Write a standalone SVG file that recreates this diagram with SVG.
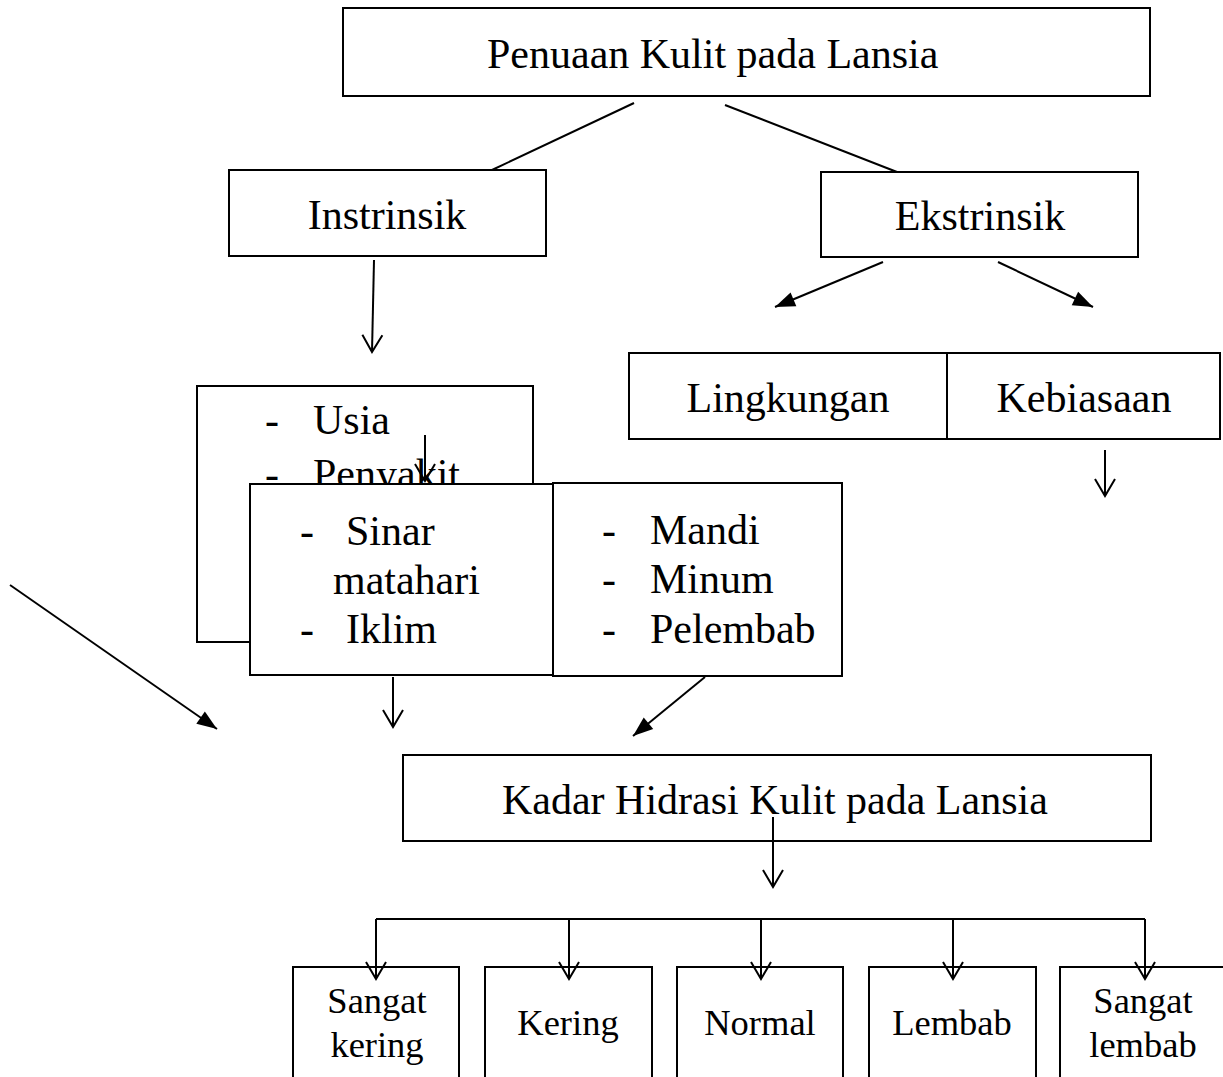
<svg xmlns="http://www.w3.org/2000/svg" width="1223" height="1077" viewBox="0 0 1223 1077">
<style>
.box{fill:#fff;stroke:#000;stroke-width:2}
.t{font-family:"Liberation Serif","Times New Roman",serif;font-size:42px;fill:#000}
.s{font-family:"Liberation Serif","Times New Roman",serif;font-size:36.5px;fill:#000;text-anchor:middle}
.c{text-anchor:middle}
.ln{stroke:#000;stroke-width:2;fill:none}
.open{marker-end:url(#open)}
.fill{marker-end:url(#solid)}
</style>
<defs>
<marker id="open" markerUnits="userSpaceOnUse" viewBox="-20 -12 22 24" refX="0" refY="0" markerWidth="22" markerHeight="24" orient="auto" overflow="visible">
<path d="M-17,-10 L0,0 L-17,10" fill="none" stroke="#000" stroke-width="2"/>
</marker>
<marker id="solid" markerUnits="userSpaceOnUse" viewBox="-22 -9 24 18" refX="0" refY="0" markerWidth="24" markerHeight="18" orient="auto" overflow="visible">
<path d="M-20,-7.5 L0,0 L-20,7.5 Z" fill="#000"/>
</marker>
</defs>

<g id="penuaan">
<rect class="box" x="343" y="8" width="807" height="88"/>
<text class="t" x="487" y="68">Penuaan Kulit pada Lansia</text>
</g>
<g id="instrinsik">
<rect class="box" x="229" y="170" width="317" height="86"/>
<text class="t c" x="387" y="229">Instrinsik</text>
</g>
<g id="ekstrinsik">
<rect class="box" x="821" y="172" width="317" height="85"/>
<text class="t c" x="980" y="230">Ekstrinsik</text>
</g>
<g id="lingkungan">
<rect class="box" x="629" y="353" width="318" height="86"/>
<text class="t c" x="788" y="412">Lingkungan</text>
</g>
<g id="kebiasaan">
<rect class="box" x="947" y="353" width="273" height="86"/>
<text class="t c" x="1084" y="412">Kebiasaan</text>
</g>
<g id="usia">
<rect class="box" x="197" y="386" width="336" height="256"/>
<text class="t" x="265" y="434">-</text>
<text class="t" x="313" y="434">Usia</text>
<text class="t" x="265" y="488">-</text>
<text class="t" x="313" y="488">Penyakit</text>
</g>
<g id="inner-arrow">
<line class="ln open" x1="425" y1="435" x2="425" y2="481"/>
</g>
<g id="sinar">
<rect class="box" x="250" y="484" width="303" height="191"/>
<text class="t" x="300" y="545">-</text>
<text class="t" x="346" y="545">Sinar</text>
<text class="t" x="333" y="594">matahari</text>
<text class="t" x="300" y="643">-</text>
<text class="t" x="346" y="643">Iklim</text>
</g>
<g id="mandi">
<rect class="box" x="553" y="483" width="289" height="193"/>
<text class="t" x="602" y="544">-</text>
<text class="t" x="650" y="544">Mandi</text>
<text class="t" x="602" y="593">-</text>
<text class="t" x="650" y="593">Minum</text>
<text class="t" x="602" y="643">-</text>
<text class="t" x="650" y="643">Pelembab</text>
</g>
<g id="kadar">
<rect class="box" x="403" y="755" width="748" height="86"/>
<text class="t" x="502" y="814">Kadar Hidrasi Kulit pada Lansia</text>
</g>
<g id="sangat-kering">
<rect class="box" x="293" y="967" width="166" height="130"/>
<text class="s" x="377" y="1013">Sangat</text>
<text class="s" x="377" y="1057">kering</text>
</g>
<g id="kering">
<rect class="box" x="485" y="967" width="167" height="130"/>
<text class="s" x="568" y="1035">Kering</text>
</g>
<g id="normal">
<rect class="box" x="677" y="967" width="166" height="130"/>
<text class="s" x="760" y="1035">Normal</text>
</g>
<g id="lembab">
<rect class="box" x="869" y="967" width="167" height="130"/>
<text class="s" x="952" y="1035">Lembab</text>
</g>
<g id="sangat-lembab">
<rect class="box" x="1060" y="967" width="180" height="130"/>
<text class="s" x="1143" y="1013">Sangat</text>
<text class="s" x="1143" y="1057">lembab</text>
</g>

<g id="connectors">
<line class="ln" x1="634" y1="103" x2="492" y2="170"/>
<line class="ln" x1="725" y1="105" x2="897" y2="172"/>
<line class="ln open" x1="374" y1="260" x2="372" y2="352"/>
<line class="ln fill" x1="883" y1="262" x2="775" y2="307"/>
<line class="ln fill" x1="998" y1="262" x2="1093" y2="307"/>
<line class="ln open" x1="1105" y1="450" x2="1105" y2="496"/>
<line class="ln open" x1="393" y1="677" x2="393" y2="727"/>
<line class="ln fill" x1="705" y1="677" x2="633" y2="736"/>
<line class="ln fill" x1="10" y1="585" x2="217" y2="729"/>
<line class="ln open" x1="773" y1="817" x2="773" y2="887"/>
<line class="ln" x1="376" y1="919" x2="1145" y2="919"/>
<line class="ln open" x1="376" y1="919" x2="376" y2="979"/>
<line class="ln open" x1="569" y1="919" x2="569" y2="979"/>
<line class="ln open" x1="761" y1="919" x2="761" y2="979"/>
<line class="ln open" x1="953" y1="919" x2="953" y2="979"/>
<line class="ln open" x1="1145" y1="919" x2="1145" y2="979"/>
</g>
</svg>
